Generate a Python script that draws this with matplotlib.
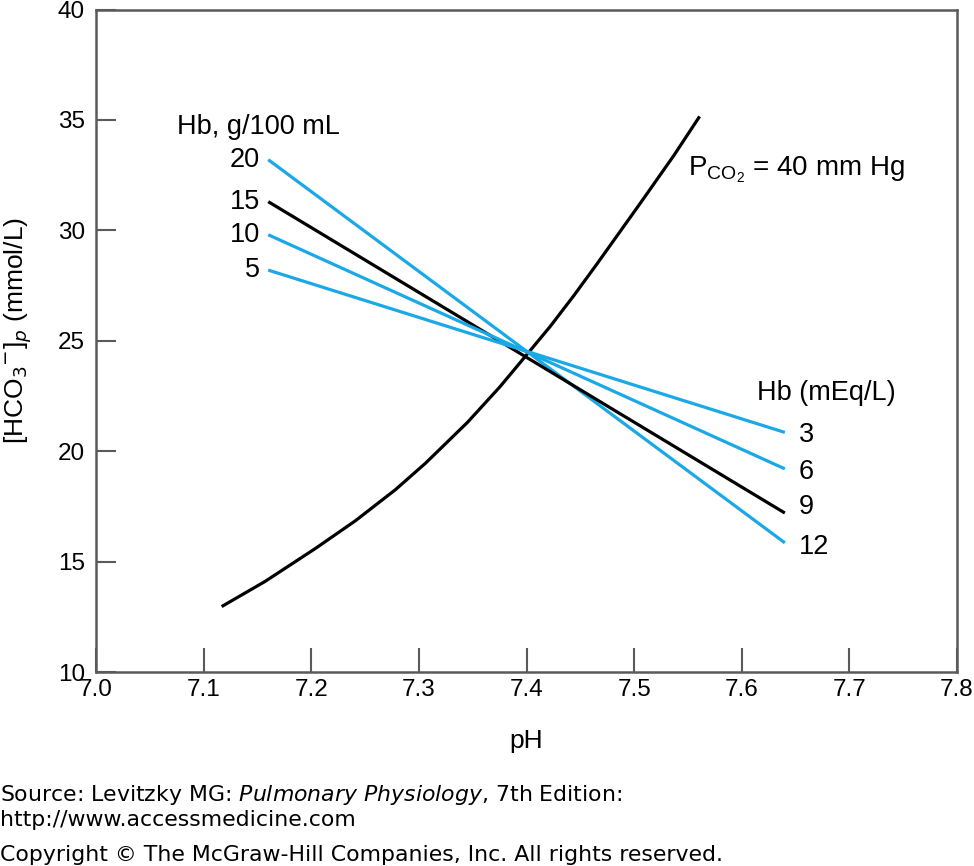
import matplotlib.pyplot as plt

# PCO2 = 40 mm Hg isobar
ph_curve = [7.118, 7.157, 7.204, 7.241, 7.278, 7.306, 7.345, 7.375, 7.399, 7.422, 7.444, 7.465, 7.506, 7.537, 7.560]
hco3_curve = [13.0, 14.1, 15.6, 16.85, 18.25, 19.45, 21.3, 22.9, 24.3, 25.65, 27.05, 28.45, 31.25, 33.4, 35.1]

# buffer lines: start (left) and end (right)
ph_start = 7.16
ph_end = 7.64
hb_g = ["20", "15", "10", "5"]
hb_meq = ["12", "9", "6", "3"]
hco3_start = [33.2, 31.3, 29.8, 28.2]
hco3_end = [15.85, 17.2, 19.2, 20.85]
line_colors = ["#1aa9e6", "black", "#1aa9e6", "#1aa9e6"]
end_label_dy = [-3, 4, -2, -2]  # points

fig = plt.figure(figsize=(9.74, 8.66), dpi=100)
ax = fig.add_axes([0.0986, 0.224, 0.884, 0.765])
plt.rcParams['font.family'] = ['Liberation Sans', 'DejaVu Sans']

ax.plot(ph_curve, hco3_curve, color="black", lw=2.3, solid_joinstyle="round")
for i in range(len(hb_g)):
    ax.plot([ph_start, ph_end], [hco3_start[i], hco3_end[i]], color=line_colors[i], lw=2.3, solid_capstyle="butt")
    ax.annotate(hb_g[i], (ph_start, hco3_start[i]), xytext=(-6, 0), textcoords="offset points",
                ha="right", va="center", fontsize=19.5, family="Liberation Sans")
    ax.annotate(hb_meq[i], (ph_end, hco3_end[i]), xytext=(10, end_label_dy[i]), textcoords="offset points",
                ha="left", va="center", fontsize=19.5, family="Liberation Sans")

ax.text(7.0755, 34.7, "Hb, g/100 mL", ha="left", va="center", fontsize=19.5, family="Liberation Sans")
ax.text(7.614, 22.65, "Hb (mEq/L)", ha="left", va="center", fontsize=19.5, family="Liberation Sans")
ax.text(7.55, 32.75, r"$\mathregular{P_{CO_2}}$ = 40 mm Hg", ha="left", va="center", fontsize=20, family="Liberation Sans")

ax.set_xlim(7.0, 7.8)
ax.set_ylim(10, 40)
ax.set_xticks([7.0, 7.1, 7.2, 7.3, 7.4, 7.5, 7.6, 7.7, 7.8])
ax.set_xticklabels(["7.0", "7.1", "7.2", "7.3", "7.4", "7.5", "7.6", "7.7", "7.8"], family="Liberation Sans")
ax.set_yticks([10, 15, 20, 25, 30, 35, 40])
ax.set_yticklabels(["10", "15", "20", "25", "30", "35", "40"], family="Liberation Sans")
for s in ax.spines.values():
    s.set_color("#5a5a5a")
    s.set_linewidth(1.8)
ax.tick_params(axis="y", direction="in", length=14.5, width=1.5, color="#5a5a5a", labelsize=17.5, pad=8)
ax.tick_params(axis="x", direction="in", length=17, width=1.5, color="#5a5a5a", labelsize=17.5, pad=5)

ax.set_xlabel("pH", fontsize=19, family="Liberation Sans", labelpad=20)
ax.set_ylabel(r"[HCO$_3$$^{-}$]$_p$ (mmol/L)", fontsize=19, family="Liberation Sans")
ax.yaxis.set_label_coords(-0.072, 0.515)

fig.text(0.0, 1 - 795 / 866, r"Source: Levitzky MG: $\it{Pulmonary\ Physiology}$, 7th Edition:",
         ha="left", va="center", fontsize=15.8, family="DejaVu Sans")
fig.text(0.0, 1 - 820 / 866, "http://www.accessmedicine.com", ha="left", va="center", fontsize=15.8, family="DejaVu Sans")
fig.text(0.0, 1 - 855 / 866, "Copyright \u00a9 The McGraw-Hill Companies, Inc. All rights reserved.",
         ha="left", va="center", fontsize=15.8, family="DejaVu Sans")

fig.savefig("out.png", dpi=100)
